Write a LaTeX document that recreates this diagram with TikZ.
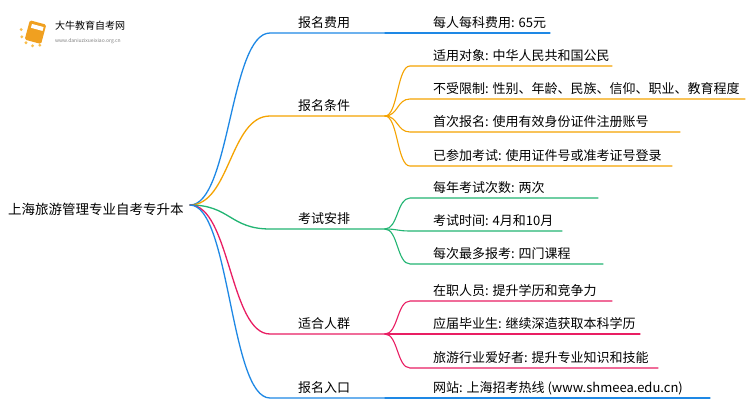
\documentclass[tikz,border=0pt]{standalone}
\usepackage{fontspec}
\setmainfont{Noto Sans CJK SC}
\definecolor{cb}{HTML}{1E88E5}
\definecolor{co}{HTML}{F5A300}
\definecolor{cg}{HTML}{22B573}
\definecolor{cp}{HTML}{E91E63}
\definecolor{lg}{HTML}{F0A020}
\begin{document}
\begin{tikzpicture}[x=1pt,y=-1pt,
  lbl/.style={anchor=base west,font=\fontsize{13}{15}\selectfont,inner sep=0pt},
  ln/.style={line width=1.3pt,line cap=round}]
\useasboundingbox (0,0) rectangle (750,410);
\fill[white] (0,0) rectangle (750,410);
% logo
\fill[lg,rounded corners=1.5pt,rotate around={-15:(35,32)}] (27,22) rectangle (44,42);
\fill[white,rotate around={-15:(35,32)}] (30,25) rectangle (42,29);
\foreach \a in {100,130,160,190,70}{\fill[co!70] (35,32)+(\a:14) circle (1.6);}
\node[lbl,font=\fontsize{10}{11}\selectfont] (lt) at (55,29) {大牛教育自考网};
\node[lbl,font=\fontsize{5}{6}\selectfont,text=gray] (lu) at (55,42) {www.daniuzixueixiao.org.cn};
% root
\node[lbl,font=\fontsize{13.5}{15}\selectfont] (root) at (8,214) {上海旅游管理专业自考专升本};
\coordinate (r) at (190,205);
\def\branch#1#2#3#4{%
  \coordinate (b#1) at (270,#2+11);
  \draw[ln,#3] (r) .. controls (230,205) and (230,#2+11) .. (b#1) -- (385,#2+11);
  \node[lbl] (bl#1) at (298,#2+5) {#4};}
\branch{1}{22}{cb}{报名费用}
\branch{2}{105}{co}{报名条件}
\branch{3}{218}{cg}{考试安排}
\branch{4}{323}{cp}{适合人群}
\branch{5}{387}{cb}{报名入口}
\def\leaf#1#2#3#4#5{%
  \coordinate (l#1) at (410,#3+11);
  \draw[ln,line width=1.1pt,#4] (385,#2+11) .. controls (398,#2+11) and (397,#3+11) .. (l#1) -- (#5,#3+11);}
\def\lt#1#2#3{\node[lbl] (t#1) at (433,#2+5) {#3};}
\leaf{a}{22}{22}{cb}{550}\lt{a}{22}{每人每科费用: 65元}
\leaf{b}{105}{55}{co}{612}\lt{b}{55}{适用对象: 中华人民共和国公民}
\leaf{c}{105}{88}{co}{745}\lt{c}{88}{不受限制: 性别、年龄、民族、信仰、职业、教育程度}
\leaf{d}{105}{121}{co}{680}\lt{d}{121}{首次报名: 使用有效身份证件注册账号}
\leaf{e}{105}{155}{co}{672}\lt{e}{155}{已参加考试: 使用证件号或准考证号登录}
\leaf{f}{218}{187}{cg}{598}\lt{f}{187}{每年考试次数: 两次}
\leaf{g}{218}{220}{cg}{562}\lt{g}{220}{考试时间: 4月和10月}
\leaf{h}{218}{253}{cg}{603}\lt{h}{253}{每次最多报考: 四门课程}
\leaf{i}{323}{290}{cp}{612}\lt{i}{290}{在职人员: 提升学历和竞争力}
\leaf{j}{323}{323}{cp}{640}\lt{j}{323}{应届毕业生: 继续深造获取本科学历}
\leaf{k}{323}{357}{cp}{658}\lt{k}{357}{旅游行业爱好者: 提升专业知识和技能}
\leaf{l}{387}{387}{cb}{710}\lt{l}{387}{网站: 上海招考热线 (www.shmeea.edu.cn)}
\end{tikzpicture}
\end{document}
